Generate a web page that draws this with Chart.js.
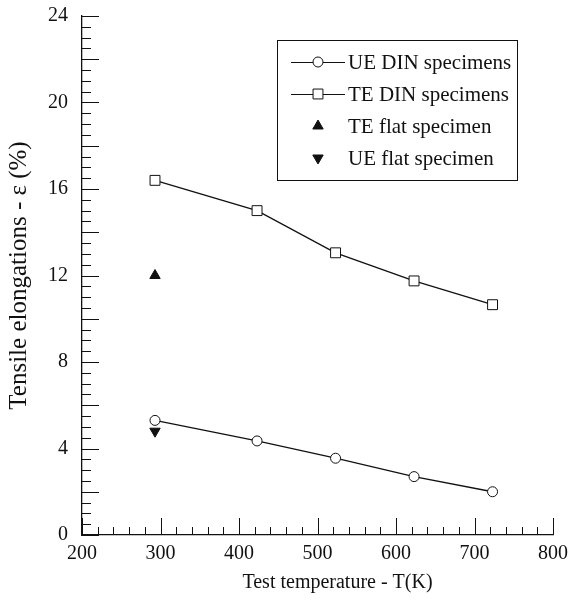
<!DOCTYPE html>
<html>
<head>
<meta charset="utf-8">
<script src="https://cdn.jsdelivr.net/npm/chart.js@4"></script>
<style>
  html, body { margin: 0; padding: 0; background: #fff; }
  #wrap { width: 568px; height: 600px; }
</style>
</head>
<body>
<div id="wrap"><canvas id="chart" width="568" height="600"></canvas></div>
<script>
// data
const temps = [293, 423, 523, 623, 723];
const ueDin = [5.3, 4.35, 3.55, 2.7, 2.0];
const teDin = [16.4, 15.0, 13.05, 11.75, 10.65];
const teFlatT = [293];
const teFlat = [12.0];
const ueFlatT = [293];
const ueFlat = [4.8];
const xTitle = "Test temperature - T(K)";
const yTitle = "Tensile elongations - ε (%)";

const FONT = "'Liberation Serif', 'Times New Roman', serif";
const INK = "#111";

const toPoints = (xs, ys) => xs.map((x, i) => ({ x: x, y: ys[i] }));

// inward ticks on left/bottom axes
const innerTicks = {
  id: "innerTicks",
  afterDraw(chart) {
    const ctx = chart.ctx;
    const xs = chart.scales.x;
    const ys = chart.scales.y;
    ctx.save();
    ctx.strokeStyle = INK;
    ctx.lineWidth = 1;
    for (let v = 0; v <= 24; v += 0.5) {
      const py = Math.round(ys.getPixelForValue(v)) + 0.5;
      const len = v % 2 === 0 ? 17 : 9;
      ctx.beginPath();
      ctx.moveTo(xs.left, py);
      ctx.lineTo(xs.left + len, py);
      ctx.stroke();
    }
    for (let v = 200; v <= 800; v += 20) {
      const px = Math.round(xs.getPixelForValue(v)) + 0.5;
      const len = v % 100 === 0 ? 17 : 8;
      ctx.beginPath();
      ctx.moveTo(px, ys.bottom);
      ctx.lineTo(px, ys.bottom - len);
      ctx.stroke();
    }
    // x axis title, sits a bit right of centre in the original
    ctx.fillStyle = INK;
    ctx.font = "20px " + FONT;
    ctx.textAlign = "center";
    ctx.textBaseline = "middle";
    ctx.fillText(xTitle, (chart.chartArea.left + chart.chartArea.right) / 2 + 20, 583);
    ctx.restore();
  }
};

// legend markers, drawn with chart.js helper
function marker(ctx, style, rotation, x, y) {
  ctx.save();
  const filled = style === "triangle";
  ctx.fillStyle = filled ? INK : "#fff";
  ctx.strokeStyle = INK;
  ctx.lineWidth = 1;
  Chart.helpers.drawPoint(ctx, {
    pointStyle: style,
    rotation: rotation,
    radius: style === "rect" ? 7 : (filled ? 6 : 5),
    borderWidth: 1
  }, x, y);
  ctx.restore();
}

// boxed legend inside the plot
const boxLegend = {
  id: "boxLegend",
  afterDraw(chart) {
    const ctx = chart.ctx;
    const a = chart.chartArea;
    const x0 = a.left + 195, y0 = a.top + 24, w = 240, h = 140;
    ctx.save();
    ctx.strokeStyle = INK;
    ctx.lineWidth = 1;
    ctx.strokeRect(x0 + 0.5, y0 + 0.5, w, h);
    ctx.font = "21px " + FONT;
    ctx.textBaseline = "middle";
    chart.data.datasets.forEach((ds, i) => {
      const cy = y0 + 22 + i * 32;
      if (ds.showLine) {
        ctx.strokeStyle = INK;
        ctx.beginPath();
        ctx.moveTo(x0 + 14, cy + 0.5);
        ctx.lineTo(x0 + 68, cy + 0.5);
        ctx.stroke();
      }
      marker(ctx, ds.pointStyle, ds.rotation || 0, x0 + 41, cy);
      ctx.fillStyle = INK;
      ctx.fillText(ds.label, x0 + 71, cy + 1);
    });
    ctx.restore();
  }
};

new Chart(document.getElementById("chart"), {
  type: "scatter",
  data: {
    datasets: [
      {
        label: "UE DIN specimens",
        data: toPoints(temps, ueDin),
        showLine: true,
        borderColor: INK,
        borderWidth: 1.3,
        pointStyle: "circle",
        pointRadius: 5,
        pointBackgroundColor: "#fff",
        pointBorderColor: INK,
        pointBorderWidth: 1
      },
      {
        label: "TE DIN specimens",
        data: toPoints(temps, teDin),
        showLine: true,
        borderColor: INK,
        borderWidth: 1.3,
        pointStyle: "rect",
        pointRadius: 7,
        pointBackgroundColor: "#fff",
        pointBorderColor: INK,
        pointBorderWidth: 1
      },
      {
        label: "TE flat specimen",
        data: toPoints(teFlatT, teFlat),
        showLine: false,
        pointStyle: "triangle",
        pointRadius: 6,
        pointBackgroundColor: INK,
        pointBorderColor: INK
      },
      {
        label: "UE flat specimen",
        data: toPoints(ueFlatT, ueFlat),
        showLine: false,
        pointStyle: "triangle",
        rotation: 180,
        pointRotation: 180,
        pointRadius: 6,
        pointBackgroundColor: INK,
        pointBorderColor: INK
      }
    ]
  },
  options: {
    responsive: false,
    animation: false,
    layout: { padding: { top: 16, right: 15, left: 0, bottom: 0 } },
    plugins: {
      legend: { display: false },
      tooltip: { enabled: false }
    },
    scales: {
      x: {
        type: "linear",
        min: 200,
        max: 800,
        afterFit: (s) => { s.height = 65; s.paddingLeft = 0; s.paddingRight = 0; },
        grid: { display: false, drawTicks: false },
        border: { display: true, color: INK, width: 1.3 },
        ticks: { stepSize: 100, padding: 7, color: INK, font: { family: FONT, size: 20 } },
        title: { display: false }
      },
      y: {
        type: "linear",
        min: 0,
        max: 24,
        afterFit: (s) => { s.width = 82; s.paddingTop = 0; s.paddingBottom = 0; },
        grid: { display: false, drawTicks: false },
        border: { display: true, color: INK, width: 1.3 },
        ticks: { stepSize: 4, padding: 14, color: INK, font: { family: FONT, size: 20 } },
        title: {
          display: true,
          text: yTitle,
          color: INK,
          font: { family: FONT, size: 25 },
          padding: { top: 4, bottom: 0 }
        }
      }
    }
  },
  plugins: [innerTicks, boxLegend]
});
</script>
</body>
</html>
